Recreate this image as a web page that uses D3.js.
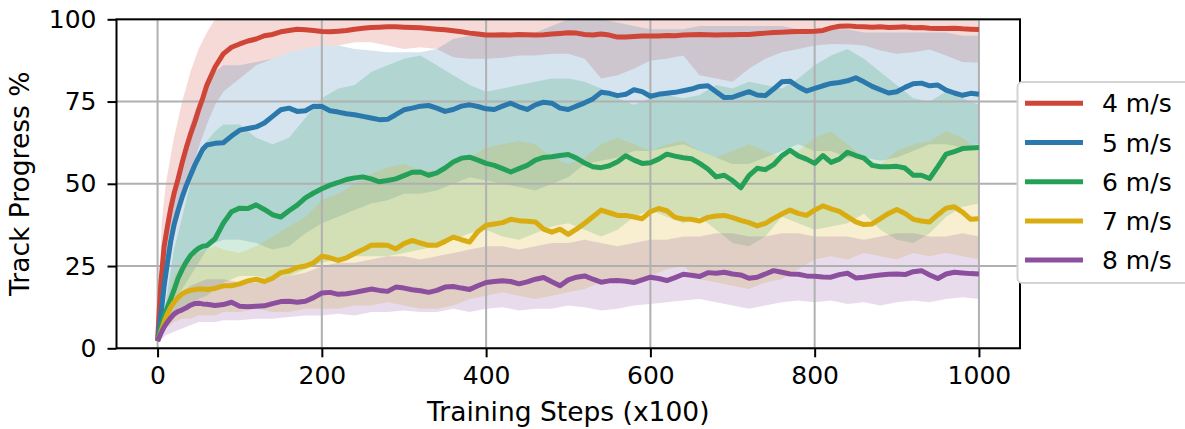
<!DOCTYPE html>
<html>
<head>
<meta charset="utf-8">
<script src="https://cdn.jsdelivr.net/npm/d3@7"></script>
<style>
  body { margin: 0; background: #fff; }
  text { font-family: "DejaVu Sans", sans-serif; fill: #000; }
</style>
</head>
<body>
<svg id="chart" width="1185" height="429"></svg>
<script>
// speeds shown in the legend
const speeds = ['4 m/s', '5 m/s', '6 m/s', '7 m/s', '8 m/s']
const colors = ['#cf4537', '#2b78ad', '#25a059', '#d9ad12', '#8b4f9e']

// x positions of the mean curves (training steps x100)
const steps = [0, 4, 8, 12, 16, 20, 25, 30, 35, 40, 45, 50, 55, 60,
    70, 80, 90, 100, 110, 120, 130, 140, 150, 160, 170, 180, 190, 200,
    210, 220, 230, 240, 250, 260, 270, 280, 290, 300, 310, 320, 330, 340, 350,
    360, 370, 380, 390, 400, 410, 420, 430, 440, 450, 460, 470, 480, 490, 500,
    510, 520, 530, 540, 550, 560, 570, 580, 590, 600, 610, 620, 630, 640, 650,
    660, 670, 680, 690, 700, 710, 720, 730, 740, 750, 760, 770, 780, 790, 800,
    810, 820, 830, 840, 850, 860, 870, 880, 890, 900, 910, 920, 930, 940, 950,
    960, 970, 980, 990, 1000]

// mean track progress (%)
const mean4 = [2.2, 20, 31, 37, 42.5, 47, 51.5, 56.5, 61, 65, 68.5, 72.5, 76, 80,
    85.5, 89.5, 91.5, 92.5, 93.4, 94, 95, 95.4, 96.2, 96.6, 97, 96.8, 96.6, 96.3,
    96.2, 96.4, 96.6, 97, 97.3, 97.5, 97.6, 97.7, 97.7, 97.6, 97.5, 97.4, 97.2, 97, 96.8,
    96.5, 96.2, 95.8, 95.5, 95.2, 95.2, 95.3, 95.2, 95.4, 95.3, 95.2, 95.3, 95.5, 95.7, 95.9,
    95.8, 95.4, 95.2, 95.5, 95.2, 94.6, 94.6, 94.8, 94.9, 94.9, 94.9, 95.1, 95, 95.2, 95.3,
    95.4, 95.3, 95.2, 95.3, 95.3, 95.4, 95.4, 95.6, 95.8, 96, 96.1, 96.2, 96.3, 96.3, 96.4,
    96.6, 97.4, 97.9, 98, 97.8, 97.7, 97.6, 97.7, 97.5, 97.6, 97.7, 97.4, 97.5, 97.3, 97.2,
    97.2, 97.3, 97.1, 97, 96.9]
const mean5 = [2.2, 10, 19, 26, 32.5, 37.5, 42, 46, 49.5, 52.5, 55.5, 58, 60.5, 61.8,
    62.3, 62.5, 64.5, 66.3, 66.8, 67.3, 68.5, 70.5, 72.5, 73, 72, 72.2, 73.6, 73.5,
    72.2, 71.8, 71.3, 71, 70.5, 70, 69.5, 69.6, 71, 72.5, 73, 73.6, 73.8, 73, 72,
    72.6, 73.6, 74, 73.5, 72.8, 72.6, 73.6, 74.5, 73.4, 72.6, 74, 74.8, 74.5, 73, 72.6,
    73.6, 74.6, 75.8, 77.8, 77.5, 76.8, 77.2, 78.6, 78, 76.6, 77.2, 77.5, 77.8, 78.3, 78.8,
    79.6, 79.8, 78, 76.2, 76.3, 77.2, 78, 77, 76.8, 78.8, 81, 81.2, 79.5, 78.2, 79,
    79.8, 80.5, 80.8, 81.3, 82.2, 81, 79.6, 78.6, 77.6, 78, 79.3, 80.4, 80.6, 79.8, 80,
    78.5, 77.6, 76.9, 77.5, 77.2]
const mean6 = [2.2, 6, 10, 12.5, 15, 17.7, 21.3, 24, 26.3, 28.2, 29.4, 30.4, 31, 31.2,
    33.3, 38, 41.5, 42.6, 42.5, 43.6, 42.2, 40.6, 39.9, 41.8, 43.5, 45.7, 47.2, 48.5,
    49.6, 50.4, 51.3, 51.8, 52.1, 51.5, 50.6, 51, 51.5, 52.5, 53.5, 53.6, 52.6, 53.3, 54.8,
    56.6, 57.8, 58.1, 57.2, 56.2, 55.6, 54.6, 53.6, 54.6, 55.6, 57.2, 58, 58.2, 58.6, 58.9,
    57.8, 56.3, 55.2, 54.9, 55.5, 56.7, 58.5, 57.2, 56.2, 56.4, 57.5, 59, 58.4, 57.9, 57.6,
    56.2, 54.5, 52.1, 52.6, 51, 48.8, 52.5, 54.7, 54.3, 55.8, 58.5, 60.2, 58.5, 57.5, 56.2,
    58.6, 56.5, 57.5, 59.6, 58.6, 57.8, 55.6, 55.2, 55.2, 55.3, 54.8, 52.6, 52.6, 51.6, 55.2,
    59, 59.8, 60.7, 60.9, 61]
const mean7 = [2.2, 5, 8, 10.5, 12.5, 14, 15.5, 16.6, 17.2, 17.6, 17.8, 18, 18, 17.9,
    18.2, 19, 19, 19.6, 20.5, 21, 20.3, 21.3, 23, 23.5, 24.6, 25, 26, 28,
    27.5, 26.7, 27.5, 28.8, 30, 31.3, 31.4, 31.3, 30.2, 31.8, 32.8, 32, 31.3, 31.3, 32.5,
    33.8, 33, 32.3, 35.5, 37.4, 37.8, 38.2, 39.2, 38.8, 38.6, 38.4, 36.2, 35.3, 36.2, 34.6,
    36.2, 38, 40, 42, 41.2, 40.4, 40.4, 39.9, 39.4, 41.5, 42.5, 41.8, 39.8, 39.3, 39.2,
    38.7, 39.8, 40.2, 40.4, 39.7, 38.9, 38.2, 37.2, 38, 39.5, 40.8, 42, 41, 40.4, 42,
    43.3, 42.4, 41.6, 40, 38.4, 37.6, 37.8, 39.4, 41, 42.2, 41, 39.2, 38.7, 38.4, 40.6,
    42.6, 43, 41.4, 39.2, 39.4]
const mean8 = [2.2, 4.5, 6.5, 8, 9.3, 10.4, 11.2, 11.7, 12.3, 13.1, 13.6, 13.7, 13.5, 13.4,
    13, 13.3, 14, 12.8, 12.6, 12.8, 12.9, 13.6, 14.2, 14.3, 14, 14.3, 15.4, 16.8,
    17, 16.4, 16.6, 17, 17.5, 18, 17.6, 17.3, 18.6, 18.3, 17.8, 17.5, 17, 17.6, 18.6,
    18.8, 18.3, 17.9, 19, 20, 20.3, 20.5, 20.3, 19.6, 20.2, 21, 21.5, 20.2, 19, 20.8,
    21.6, 22, 21, 20.1, 20.5, 20.6, 20.4, 20, 20.8, 21.6, 21.2, 20.6, 21.5, 22.5, 22.2,
    21.8, 23, 22.8, 23.1, 22.6, 22.3, 21.3, 21.6, 22.6, 23.6, 23.1, 22.6, 22.5, 22, 21.9,
    21.7, 21.6, 22.4, 22.8, 21.4, 21.6, 22, 22.3, 22.5, 22.6, 22.4, 23.3, 23.6, 22.3, 21.2,
    22.6, 23.1, 22.9, 22.7, 22.6]

// x positions of the shaded spread
const bandSteps = [0, 5, 10, 20, 30, 40, 50, 60, 70, 80,
    100, 120, 140, 160, 180, 200, 220, 240, 260, 280, 300, 320, 340, 360, 380,
    400, 420, 440, 460, 480, 500, 520, 540, 560, 580, 600, 620, 640, 660, 680,
    700, 720, 740, 760, 780, 800, 820, 840, 860, 880, 900, 920, 940, 960, 980, 1000]

const upper4 = [2.5, 38, 50, 64, 75, 84, 91, 96, 100, 100,
    100, 100, 100, 100, 100, 100, 100, 100, 100, 100, 100, 100, 100, 100, 100,
    100, 100, 100, 100, 100, 100, 100, 100, 100, 100, 100, 100, 100, 100, 100,
    100, 100, 100, 100, 100, 100, 100, 100, 100, 100, 100, 100, 100, 100, 100, 100]
const lower4 = [2, 14, 24, 34, 44, 53, 61, 68, 74, 78,
    82, 86, 88, 90, 91, 92, 92, 93, 93, 92, 91, 91.5, 91, 88.5, 88,
    88, 88.3, 89, 89, 89.5, 89.5, 88, 82, 83, 85, 87.5, 88, 89, 83, 82,
    81, 85, 88, 90, 91, 92, 92.5, 92.4, 92, 90.5, 89.5, 90, 90.8, 89, 87, 86.8]
const upper5 = [2, 18, 30, 46, 58, 68, 75, 80, 84, 86,
    86, 87, 88, 90, 91, 92, 92, 91, 90.5, 90, 90, 90, 91, 94, 95,
    95, 95.5, 95, 96, 98, 100, 100, 100, 99, 98, 97, 97, 97, 98, 98,
    98, 98, 98, 98, 97, 97, 97, 97, 96, 96, 96, 96, 96, 96, 95, 95]
const lower5 = [2, 6, 10, 15, 18, 22, 26, 30, 32, 33,
    33, 32, 30, 31, 35, 38, 40, 42, 44, 45, 47, 47, 48, 50, 52,
    51, 50, 49, 48, 50, 52, 56, 57, 58, 60, 60, 61, 62, 60, 58,
    56, 56, 58, 60, 62, 60, 60, 58, 58, 57, 58, 60, 62, 62, 61, 62]
const upper6 = [2, 8, 14, 30, 40, 50, 58, 63, 66, 68,
    68, 64, 62, 64, 70, 76, 79, 80, 84, 86, 88, 89, 86, 83, 80,
    78, 79, 80, 81, 82, 82, 81, 79, 76, 74, 76, 77, 76, 77, 80,
    79, 81, 80, 79, 82, 86, 89, 91, 88, 84, 80, 76, 75, 78, 76, 74]
const lower6 = [2, 4, 6, 9, 12, 14, 15, 16, 18, 20,
    22, 22, 21, 22, 24, 26, 27, 28, 28, 28, 29, 30, 31, 33, 35,
    36, 34, 33, 35, 37, 38, 36, 34, 36, 40, 42, 40, 38, 40, 36,
    32, 31, 34, 40, 38, 36, 37, 38, 41, 36, 33, 32, 35, 40, 43, 44]
const upper7 = [2, 8, 13, 22, 26, 28, 29, 30, 31, 30,
    29, 31, 34, 37, 40, 45, 47, 50, 53, 55, 56, 54, 54, 56, 58,
    61, 62, 63, 62, 58, 56, 58, 62, 64, 62, 60, 62, 63, 60, 58,
    60, 62, 60, 58, 60, 64, 66, 62, 58, 56, 60, 62, 63, 66, 64, 60]
const lower7 = [2, 4, 6, 8, 9, 9, 10, 10, 10, 11,
    11, 12, 11, 11, 12, 12, 12, 13, 13, 14, 13, 12, 12, 13, 15,
    16, 17, 16, 15, 16, 17, 18, 20, 21, 20, 22, 24, 25, 21, 20,
    19, 18, 20, 21, 24, 27, 28, 27, 29, 28, 27, 29, 28, 29, 28, 27]
const upper8 = [2, 7, 10, 14, 17, 19, 20, 21, 21, 21,
    20, 20, 21, 22, 23, 25, 26, 26, 27, 28, 28, 27, 28, 29, 30,
    31, 31, 30, 31, 32, 32, 33, 32, 31, 32, 33, 33, 34, 34, 35,
    35, 34, 34, 35, 35, 34, 34, 34, 33, 34, 35, 35, 34, 34, 35, 34]
const lower8 = [2, 3, 4, 5, 6, 7, 8, 8, 8, 8.5,
    8.5, 9, 9, 9.5, 10, 10, 10.5, 10, 11, 11, 11.5, 11, 11, 12, 11,
    12, 12.5, 11.5, 12, 12, 13, 12.5, 11.5, 12, 13, 13.5, 14, 14.5, 15, 14,
    13, 12, 13, 14, 14.5, 14, 14.5, 13.5, 14, 13, 14, 14.5, 14, 15, 15.5, 15]

const xTicks = [0, 200, 400, 600, 800, 1000]
const yTicks = [0, 25, 50, 75, 100]

const series = speeds.map((name, i) => ({
    name,
    color: colors[i],
    mean: [mean4, mean5, mean6, mean7, mean8][i],
    upper: [upper4, upper5, upper6, upper7, upper8][i],
    lower: [lower4, lower5, lower6, lower7, lower8][i],
}))

// 画布与坐标轴区域
const svg = d3.select('#chart')
const plot = { left: 116.5, right: 1020, top: 19.3, bottom: 348.3 }

const x = d3.scaleLinear().domain([-50, 1050]).range([plot.left, plot.right])
const y = d3.scaleLinear().domain([0, 100]).range([plot.bottom, plot.top])

svg.append('defs').append('clipPath')
    .attr('id', 'plot-clip')
    .append('rect')
    .attr('x', plot.left)
    .attr('y', plot.top)
    .attr('width', plot.right - plot.left)
    .attr('height', plot.bottom - plot.top)

const body = svg.append('g').attr('clip-path', 'url(#plot-clip)')

// 阴影区间
const area = d3.area()
    .x((d, i) => x(bandSteps[i]))
    .y0(d => y(d[0]))
    .y1(d => y(d[1]))

body.append('g')
    .selectAll('path')
    .data(series)
    .join('path')
    .attr('d', s => area(s.lower.map((v, i) => [v, s.upper[i]])))
    .attr('fill', s => s.color)
    .attr('fill-opacity', 0.2)
    .attr('stroke', 'none')

// 网格线 (在阴影之上, 曲线之下)
const grid = body.append('g').attr('stroke', '#b0b0b0').attr('stroke-width', 2)
grid.selectAll('.gx')
    .data(xTicks)
    .join('line')
    .attr('x1', d => x(d))
    .attr('x2', d => x(d))
    .attr('y1', plot.top)
    .attr('y2', plot.bottom)
grid.selectAll('.gy')
    .data(yTicks)
    .join('line')
    .attr('x1', plot.left)
    .attr('x2', plot.right)
    .attr('y1', d => y(d))
    .attr('y2', d => y(d))

// 均值曲线
const line = d3.line()
    .x((d, i) => x(steps[i]))
    .y(d => y(d))

body.append('g')
    .selectAll('path')
    .data(series)
    .join('path')
    .attr('d', s => line(s.mean))
    .attr('fill', 'none')
    .attr('stroke', s => s.color)
    .attr('stroke-width', 5)
    .attr('stroke-linejoin', 'round')
    .attr('stroke-linecap', 'butt')

// 坐标轴边框
svg.append('rect')
    .attr('x', plot.left)
    .attr('y', plot.top)
    .attr('width', plot.right - plot.left)
    .attr('height', plot.bottom - plot.top)
    .attr('fill', 'none')
    .attr('stroke', '#000')
    .attr('stroke-width', 2)

const xAxis = d3.axisBottom(x)
    .tickValues(xTicks)
    .tickFormat(d3.format('d'))
    .tickSize(9)
    .tickPadding(9)
svg.append('g')
    .attr('transform', `translate(0,${plot.bottom})`)
    .call(xAxis)
    .call(g => g.select('.domain').remove())
    .call(g => g.selectAll('.tick line').attr('stroke', '#000').attr('stroke-width', 2))
    .call(g => g.selectAll('.tick text')
        .attr('font-size', 25)
        .attr('font-family', '"DejaVu Sans", sans-serif')
        .attr('fill', '#000'))

const yAxis = d3.axisLeft(y)
    .tickValues(yTicks)
    .tickSize(9)
    .tickPadding(11)
svg.append('g')
    .attr('transform', `translate(${plot.left},0)`)
    .call(yAxis)
    .call(g => g.select('.domain').remove())
    .call(g => g.selectAll('.tick line').attr('stroke', '#000').attr('stroke-width', 2))
    .call(g => g.selectAll('.tick text')
        .attr('font-size', 25)
        .attr('font-family', '"DejaVu Sans", sans-serif')
        .attr('fill', '#000'))

svg.append('text')
    .attr('x', (plot.left + plot.right) / 2)
    .attr('y', 421)
    .attr('text-anchor', 'middle')
    .attr('font-size', 26.5)
    .text('Training Steps (x100)')

svg.append('text')
    .attr('transform', `translate(29,${(plot.top + plot.bottom) / 2}) rotate(-90)`)
    .attr('text-anchor', 'middle')
    .attr('font-size', 26.5)
    .text('Track Progress %')

// 图例
const legend = svg.append('g')
legend.append('rect')
    .attr('x', 1017.5)
    .attr('y', 82)
    .attr('width', 200)
    .attr('height', 201)
    .attr('rx', 5)
    .attr('fill', '#fff')
    .attr('stroke', '#d4d4d4')
    .attr('stroke-width', 2)

const item = legend.selectAll('.item')
    .data(series)
    .join('g')
    .attr('transform', (d, i) => `translate(0,${103.3 + i * 39.2})`)
item.append('line')
    .attr('x1', 1025)
    .attr('x2', 1083)
    .attr('stroke', d => d.color)
    .attr('stroke-width', 5)
item.append('text')
    .attr('x', 1102)
    .attr('y', 9)
    .attr('font-size', 25)
    .text(d => d.name)
</script>
</body>
</html>
